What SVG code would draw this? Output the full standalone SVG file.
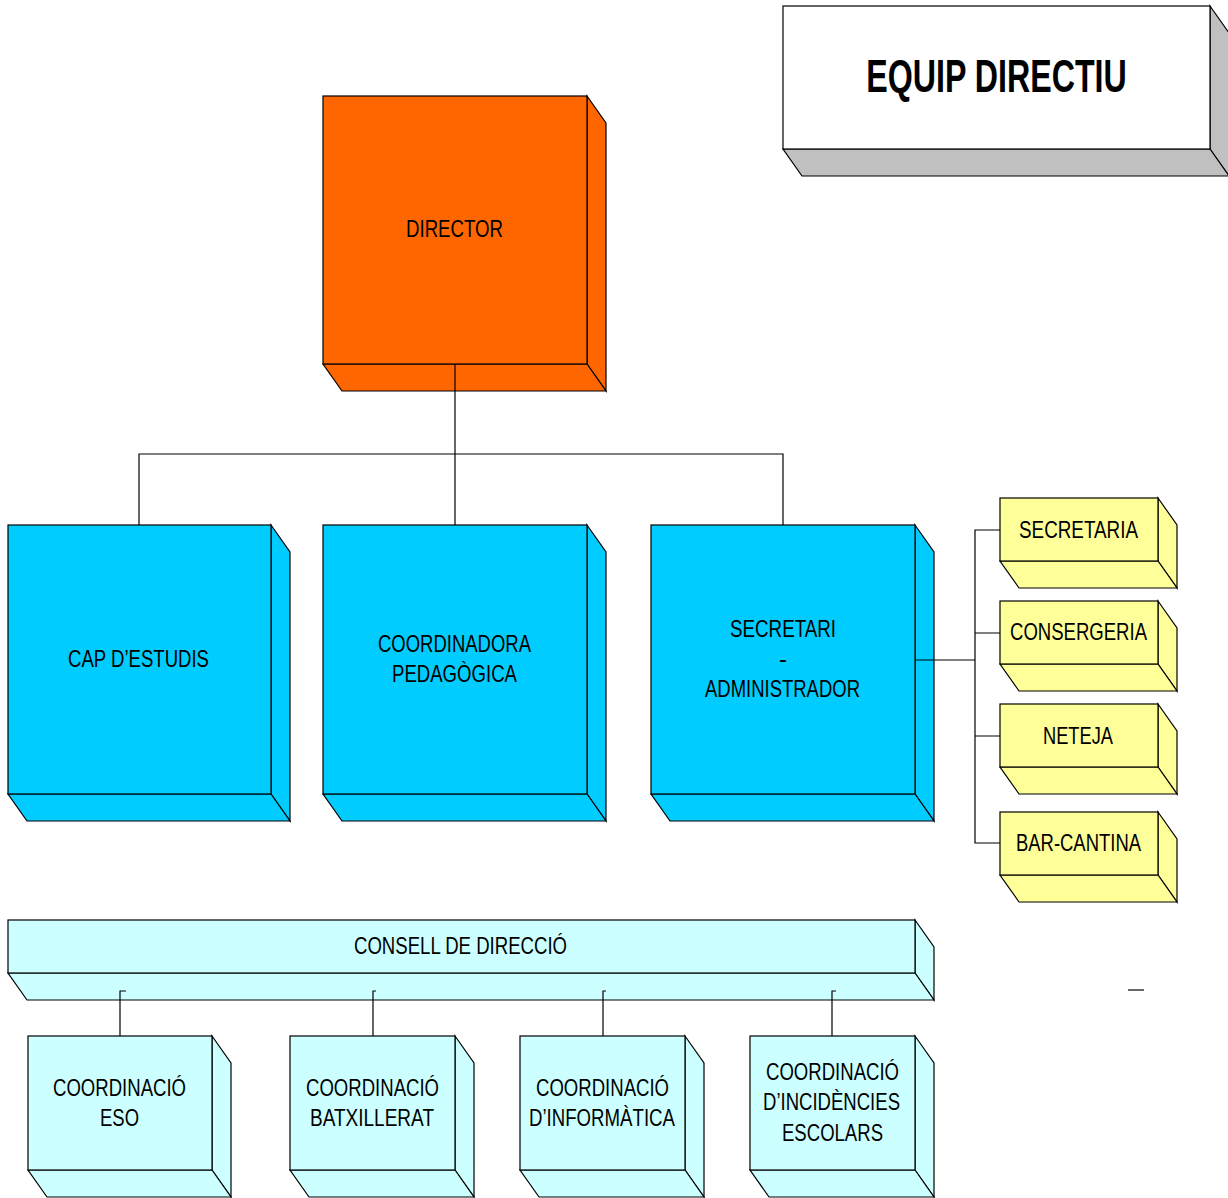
<svg xmlns="http://www.w3.org/2000/svg" width="1228" height="1198" viewBox="0 0 1228 1198">
<style>
.s{stroke:#000;stroke-width:1.2;stroke-linejoin:miter}
.or{fill:#FF6600}
.bl{fill:#00CCFF}
.ye{fill:#FFFF99}
.cy{fill:#CCFFFF}
.wh{fill:#FFFFFF}
.gr{fill:#C0C0C0}
.t{font-family:"Liberation Sans",Arial,sans-serif;font-size:24px;fill:#000;text-anchor:middle}
.title{font-family:"Liberation Sans",Arial,sans-serif;font-size:47px;font-weight:bold;fill:#000;text-anchor:middle}
.c{stroke:#000;stroke-width:1.2;fill:none}
</style>
<rect width="1228" height="1198" fill="#FFFFFF"/>

<g id="equip-directiu">
<polygon class="s gr" points="1210,6 1229,33 1229,176 1210,149"/>
<polygon class="s gr" points="783,149 1210,149 1229,176 802,176"/>
<rect class="s wh" x="783" y="6" width="427" height="143"/>
<text class="title" transform="translate(996.5,92) scale(0.685,1)" x="0" y="0">EQUIP DIRECTIU</text>
</g>

<g id="director">
<polygon class="s or" points="587,96 606,123 606,391 587,364"/>
<polygon class="s or" points="323,364 587,364 606,391 342,391"/>
<rect class="s or" x="323" y="96" width="264" height="268"/>
<text class="t" x="454.5" y="236.5" textLength="97" lengthAdjust="spacingAndGlyphs">DIRECTOR</text>
</g>

<g id="cap-estudis">
<polygon class="s bl" points="271,525 290,552 290,821 271,794"/>
<polygon class="s bl" points="8,794 271,794 290,821 27,821"/>
<rect class="s bl" x="8" y="525" width="263" height="269"/>
<text class="t" x="138.5" y="666.5" textLength="141" lengthAdjust="spacingAndGlyphs">CAP D’ESTUDIS</text>
</g>

<g id="coordinadora">
<polygon class="s bl" points="587,525 606,552 606,821 587,794"/>
<polygon class="s bl" points="323,794 587,794 606,821 342,821"/>
<rect class="s bl" x="323" y="525" width="264" height="269"/>
<text class="t" x="454.5" y="651.5" textLength="153" lengthAdjust="spacingAndGlyphs">COORDINADORA</text>
<text class="t" x="454.5" y="681.5" textLength="125" lengthAdjust="spacingAndGlyphs">PEDAGÒGICA</text>
</g>

<g id="secretari">
<polygon class="s bl" points="915,525 934,552 934,821 915,794"/>
<polygon class="s bl" points="651,794 915,794 934,821 670,821"/>
<rect class="s bl" x="651" y="525" width="264" height="269"/>
<text class="t" x="783" y="636.5" textLength="106" lengthAdjust="spacingAndGlyphs">SECRETARI</text>
<text class="t" x="783" y="666.5">-</text>
<text class="t" x="782.5" y="696.5" textLength="155" lengthAdjust="spacingAndGlyphs">ADMINISTRADOR</text>
</g>

<g id="secretaria">
<polygon class="s ye" points="1158,498 1177,525 1177,588 1158,561"/>
<polygon class="s ye" points="1000,561 1158,561 1177,588 1019,588"/>
<rect class="s ye" x="1000" y="498" width="158" height="63"/>
<text class="t" x="1078.5" y="537.5" textLength="119" lengthAdjust="spacingAndGlyphs">SECRETARIA</text>
</g>

<g id="consergeria">
<polygon class="s ye" points="1158,601 1177,628 1177,691 1158,664"/>
<polygon class="s ye" points="1000,664 1158,664 1177,691 1019,691"/>
<rect class="s ye" x="1000" y="601" width="158" height="63"/>
<text class="t" x="1078.5" y="640" textLength="137" lengthAdjust="spacingAndGlyphs">CONSERGERIA</text>
</g>

<g id="neteja">
<polygon class="s ye" points="1158,704 1177,731 1177,794 1158,767"/>
<polygon class="s ye" points="1000,767 1158,767 1177,794 1019,794"/>
<rect class="s ye" x="1000" y="704" width="158" height="63"/>
<text class="t" x="1078" y="744" textLength="70" lengthAdjust="spacingAndGlyphs">NETEJA</text>
</g>

<g id="bar-cantina">
<polygon class="s ye" points="1158,812 1177,839 1177,902 1158,875"/>
<polygon class="s ye" points="1000,875 1158,875 1177,902 1019,902"/>
<rect class="s ye" x="1000" y="812" width="158" height="63"/>
<text class="t" x="1078.5" y="851" textLength="125" lengthAdjust="spacingAndGlyphs">BAR-CANTINA</text>
</g>

<g id="consell-direccio">
<polygon class="s cy" points="915,920 934,947 934,1000 915,973"/>
<polygon class="s cy" points="8,973 915,973 934,1000 27,1000"/>
<rect class="s cy" x="8" y="920" width="907" height="53"/>
<text class="t" x="460.5" y="953.5" textLength="213" lengthAdjust="spacingAndGlyphs">CONSELL DE DIRECCIÓ</text>
</g>

<g id="coord-eso">
<polygon class="s cy" points="212,1036 231,1063 231,1197 212,1170"/>
<polygon class="s cy" points="28,1170 212,1170 231,1197 47,1197"/>
<rect class="s cy" x="28" y="1036" width="184" height="134"/>
<text class="t" x="119.5" y="1095.5" textLength="133" lengthAdjust="spacingAndGlyphs">COORDINACIÓ</text>
<text class="t" x="119.5" y="1125.5" textLength="39" lengthAdjust="spacingAndGlyphs">ESO</text>
</g>

<g id="coord-batxillerat">
<polygon class="s cy" points="455,1036 474,1063 474,1197 455,1170"/>
<polygon class="s cy" points="290,1170 455,1170 474,1197 309,1197"/>
<rect class="s cy" x="290" y="1036" width="165" height="134"/>
<text class="t" x="372.5" y="1095.5" textLength="133" lengthAdjust="spacingAndGlyphs">COORDINACIÓ</text>
<text class="t" x="372" y="1125.5" textLength="124" lengthAdjust="spacingAndGlyphs">BATXILLERAT</text>
</g>

<g id="coord-informatica">
<polygon class="s cy" points="685,1036 704,1063 704,1197 685,1170"/>
<polygon class="s cy" points="520,1170 685,1170 704,1197 539,1197"/>
<rect class="s cy" x="520" y="1036" width="165" height="134"/>
<text class="t" x="602.5" y="1095.5" textLength="133" lengthAdjust="spacingAndGlyphs">COORDINACIÓ</text>
<text class="t" x="602" y="1125.5" textLength="146" lengthAdjust="spacingAndGlyphs">D’INFORMÀTICA</text>
</g>

<g id="coord-incidencies">
<polygon class="s cy" points="915,1036 934,1063 934,1197 915,1170"/>
<polygon class="s cy" points="750,1170 915,1170 934,1197 769,1197"/>
<rect class="s cy" x="750" y="1036" width="165" height="134"/>
<text class="t" x="832.5" y="1079.5" textLength="133" lengthAdjust="spacingAndGlyphs">COORDINACIÓ</text>
<text class="t" x="831.5" y="1109.5" textLength="137" lengthAdjust="spacingAndGlyphs">D’INCIDÈNCIES</text>
<text class="t" x="832.5" y="1140.5" textLength="101" lengthAdjust="spacingAndGlyphs">ESCOLARS</text>
</g>

<g id="connectors">
<path class="c" d="M455,364 V525 M139,525 V454 H783 V525"/>
<path class="c" d="M915,660 H975 M1000,530 H975 V843 H1000 M975,633 H1000 M975,736 H1000"/>
<path class="c" d="M126,991 H120 V1036 M376,991 H373 V1036 M606,991 H603 V1036 M836,991 H832 V1036"/>
<path class="c" d="M1128,990 H1144"/>
</g>
</svg>
